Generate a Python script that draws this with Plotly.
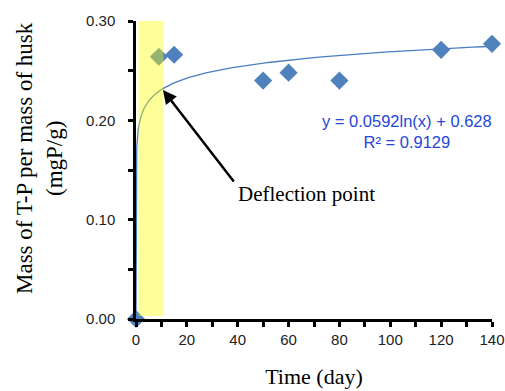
import numpy as np
import plotly.graph_objects as go

# Data
days = [0, 9, 15, 50, 60, 80, 120, 140]
mass_tp = [0.0, 0.264, 0.266, 0.240, 0.248, 0.240, 0.271, 0.277]

# Logarithmic trend line (as drawn)
trend_a = 0.0165
trend_b = 0.193

x_ticks = [0, 20, 40, 60, 80, 100, 120, 140]
y_ticks = [0.0, 0.10, 0.20, 0.30]
y_tick_labels = ["0.00", "0.10", "0.20", "0.30"]

band_start, band_end = 1.0, 10.8
deflection_x, deflection_y = 10.6, 0.2306

x0 = np.exp(-trend_b / trend_a)
tx = np.concatenate([[0.0, x0], np.geomspace(x0 * 1.0001, 140, 600)])
ty = np.clip(trend_a * np.log(np.maximum(tx, x0)) + trend_b, 0, None)
ty[0] = 0.0

W, H = 505, 391
ML, MR, MT, MB = 136, 13, 21, 72
PW, PH = W - ML - MR, H - MT - MB

fig = go.Figure()
fig.add_trace(go.Scatter(x=tx, y=ty, mode="lines",
                         line=dict(color="#4A7EC0", width=1.3),
                         hoverinfo="skip", showlegend=False))
fig.add_trace(go.Scatter(x=days, y=mass_tp, mode="markers",
                         marker=dict(symbol="diamond", size=14, color="#4F81BD",
                                     line=dict(width=0)),
                         cliponaxis=False, showlegend=False))

fig.add_shape(type="rect", xref="x", yref="y", x0=band_start, x1=band_end,
              y0=0.003, y1=0.30, fillcolor="rgba(255,255,0,0.4)",
              line=dict(width=0), layer="above")

serif = "Liberation Serif, Times New Roman, serif"
sans = "Liberation Sans, Arial, sans-serif"

fig.add_annotation(x=deflection_x, y=deflection_y, xref="x", yref="y",
                   ax=72, ay=93, axref="pixel", ayref="pixel",
                   showarrow=True, arrowhead=2, arrowsize=1.1, arrowwidth=2.5,
                   arrowcolor="black", text="")
fig.add_annotation(x=(236 - ML) / PW, y=(MT + PH - 194) / PH, xref="paper", yref="paper",
                   text="Deflection point",
                   showarrow=False, xanchor="left", yanchor="middle",
                   font=dict(family=serif, size=21, color="black"))

fig.add_annotation(x=(407 - ML) / PW, y=(MT + PH - 131.5) / PH, xref="paper", yref="paper",
                   text="y = 0.0592ln(x) + 0.628<br>R² = 0.9129",
                   showarrow=False, align="center", xanchor="center", yanchor="middle",
                   font=dict(family=sans, size=16.5, color="#2546D8"))

# y-axis title
fig.add_annotation(x=(40 - ML) / PW, y=(MT + PH - 158) / PH, xref="paper", yref="paper",
                   text="Mass of T-P per mass of husk<br>(mgP/g)", textangle=-90,
                   showarrow=False, align="center", xanchor="center", yanchor="middle",
                   font=dict(family=serif, size=23, color="black"))

fig.update_layout(
    width=W, height=H,
    margin=dict(l=ML, r=MR, t=MT, b=MB),
    paper_bgcolor="white", plot_bgcolor="white",
    showlegend=False,
    xaxis=dict(range=[0, 140], tickvals=x_ticks, showgrid=False, zeroline=False,
               automargin=False,
               showline=True, linecolor="black", linewidth=2.5,
               ticks="outside", ticklen=5, tickwidth=3, tickcolor="black",
               minor=dict(dtick=10, ticks="outside", ticklen=5, tickwidth=3, tickcolor="black"),
               tickfont=dict(family=sans, size=15, color="#222"),
               title=dict(text="Time (day)", font=dict(family=serif, size=22, color="black"),
                          standoff=22)),
    yaxis=dict(range=[0, 0.30], tickvals=y_ticks, ticktext=y_tick_labels,
               showgrid=False, zeroline=False, automargin=False,
               showline=True, linecolor="black", linewidth=2.5,
               ticks="outside", ticklen=5, tickwidth=3, tickcolor="black",
               minor=dict(dtick=0.05, ticks="outside", ticklen=5, tickwidth=3, tickcolor="black"),
               tickfont=dict(family=sans, size=15, color="#222"),
               ticklabelstandoff=10),
)

fig.write_html("out.html")
